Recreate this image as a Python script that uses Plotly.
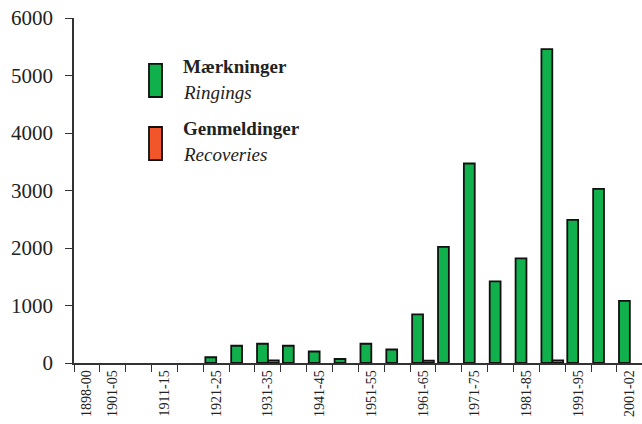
import plotly.graph_objects as go

categories = ["1898-00", "1901-05", "1906-10", "1911-15", "1916-20", "1921-25",
              "1926-30", "1931-35", "1936-40", "1941-45", "1946-50", "1951-55",
              "1956-60", "1961-65", "1966-70", "1971-75", "1976-80", "1981-85",
              "1986-90", "1991-95", "1996-00", "2001-02"]
ringings = [0, 0, 0, 0, 0, 100, 300, 335, 300, 200, 70, 335,
            235, 845, 2020, 3470, 1420, 1820, 5460, 2490, 3030, 1080]
recoveries = [0, 0, 0, 0, 0, 0, 0, 45, 0, 0, 0, 0,
              0, 40, 0, 0, 0, 0, 45, 0, 0, 0]
shown_labels = ["1898-00", "1901-05", "1911-15", "1921-25", "1931-35", "1941-45",
                "1951-55", "1961-65", "1971-75", "1981-85", "1991-95", "2001-02"]
y_ticks = [0, 1000, 2000, 3000, 4000, 5000, 6000]

GREEN = "#10B14C"
RED = "#F2552A"
FONT = "Liberation Serif"
EDGE = 1.8


def edge_widths(values):
    return [EDGE if v > 0 else 0 for v in values]


fig = go.Figure()
fig.add_trace(go.Bar(x=categories, y=ringings, name="Mærkninger",
                     marker=dict(color=GREEN,
                                 line=dict(color="#111111", width=edge_widths(ringings)))))
fig.add_trace(go.Bar(x=categories, y=recoveries, name="Genmeldinger",
                     marker=dict(color=RED,
                                 line=dict(color="#111111", width=edge_widths(recoveries)))))

fig.update_layout(
    width=642, height=424,
    margin=dict(l=74, r=0, t=18, b=61),
    paper_bgcolor="white", plot_bgcolor="white",
    barmode="group", bargap=0.16, bargroupgap=0,
    showlegend=False,
    font=dict(family=FONT, color="#222222"),
)
fig.update_xaxes(
    type="category", range=[-0.5, 21.47], automargin=False,
    tickmode="array", tickvals=categories,
    ticktext=[c if c in shown_labels else "" for c in categories],
    tickson="boundaries", ticks="outside", ticklen=7, tickwidth=1.2, tickcolor="#333333",
    tickangle=-90, tickfont=dict(family=FONT, size=14, color="#222222"),
    ticklabeloverflow="allow",
    showline=True, linecolor="#333333", linewidth=1.5,
    showgrid=False, zeroline=False,
)
fig.update_yaxes(
    range=[0, 6000], tickmode="array", tickvals=y_ticks, automargin=False,
    ticks="outside", ticklen=7, tickwidth=1.2, tickcolor="#333333",
    ticklabelstandoff=8, ticklabeloverflow="allow",
    tickfont=dict(family=FONT, size=21, color="#222222"),
    showline=True, linecolor="#333333", linewidth=1.5,
    showgrid=False, zeroline=False,
)

# legend drawn manually (tall rectangles)
for color, y0, y1 in [(GREEN, 0.771, 0.867), (RED, 0.588, 0.684)]:
    fig.add_shape(type="rect", xref="paper", yref="paper",
                  x0=0.132, x1=0.155, y0=y0, y1=y1,
                  fillcolor=color, line=dict(color="#111111", width=1.8))

legend_texts = [
    ("<b>Mærkninger</b>", 0.858),
    ("<i>Ringings</i>", 0.785),
    ("<b>Genmeldinger</b>", 0.68),
    ("<i>Recoveries</i>", 0.605),
]
for txt, y in legend_texts:
    fig.add_annotation(text=txt, xref="paper", yref="paper", x=0.188, y=y,
                       xanchor="left", yanchor="middle", showarrow=False,
                       font=dict(family=FONT, size=19, color="#222222"))

# remove the default 8px page margin so the figure fills the window exactly
fig.write_html("out.html",
               config={"displayModeBar": False},
               post_script="document.body.style.margin='0';document.body.style.overflow='hidden';")
